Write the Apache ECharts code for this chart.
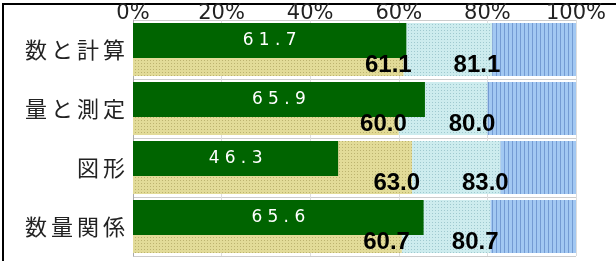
<!DOCTYPE html>
<html>
<head>
<meta charset="utf-8">
<script src="https://cdn.jsdelivr.net/npm/echarts@6/dist/echarts.min.js"></script>
<style>
  html, body { margin: 0; padding: 0; background: #fff; }
  #chart { width: 616px; height: 261px; }
</style>
</head>
<body>
<div id="chart"></div>
<script>
const categories = ['数と計算', '量と測定', '図形', '数量関係']
const greenValues = [61.7, 65.9, 46.3, 65.6]
const lowerValues = [61.1, 60.0, 63.0, 60.7]
const upperValues = [81.1, 80.0, 83.0, 80.7]
const xTicks = [0, 20, 40, 60, 80, 100]

// spread characters out a bit, the original font is very wide
const spread = (text, key) =>
  String(text).split('').map(c => '{' + (c === '.' ? key + 'p' : key) + '|' + c + '}').join('')

const chart = echarts.init(document.getElementById('chart'))

const blackLabel = (values) => ({
  show: true,
  position: ['100%', '80%'],
  offset: [8, 0],
  align: 'right',
  verticalAlign: 'middle',
  fontFamily: 'Liberation Sans',
  fontWeight: 'bold',
  fontSize: 24,
  color: '#000',
  formatter: p => values[p.dataIndex].toFixed(1)
})

chart.setOption({
  animation: false,
  grid: { left: 133, right: 40, top: 20, bottom: 5, containLabel: false, outerBoundsMode: 'none' },
  graphic: [{
    type: 'rect',
    shape: { x: 3, y: 4, width: 700, height: 400 },
    style: { fill: 'none', stroke: '#000', lineWidth: 2 },
    silent: true
  }],
  xAxis: {
    type: 'value',
    position: 'top',
    min: xTicks[0],
    max: xTicks[xTicks.length - 1],
    interval: 20,
    axisLine: { show: false },
    axisTick: { show: false },
    splitLine: { show: true, lineStyle: { color: '#ddd' } },
    axisLabel: {
      margin: 0,
      lineHeight: 12,
      fontFamily: 'DejaVu Sans',
      fontSize: 21,
      color: '#222',
      formatter: '{value}%'
    }
  },
  yAxis: [{
    type: 'category',
    inverse: true,
    data: categories,
    axisLine: { show: true, lineStyle: { color: '#aaa' } },
    axisTick: { show: false },
    splitLine: { show: true, lineStyle: { color: '#ccc' } },
    axisLabel: {
      margin: 6,
      fontFamily: 'Noto Sans CJK JP',
      fontSize: 22,
      color: '#222',
      formatter: v => spread(v, 'c'),
      rich: {
        c: { fontFamily: 'Noto Sans CJK JP', fontSize: 22, color: '#222', width: 26, align: 'center' },
        cp: { fontFamily: 'Noto Sans CJK JP', fontSize: 22, color: '#222', width: 26, align: 'center' }
      }
    }
  }, {
    type: 'category',
    inverse: true,
    data: categories,
    show: false
  }],
  series: [{
    name: 'lower',
    type: 'bar',
    stack: 'all',
    yAxisIndex: 0,
    barWidth: 53,
    data: lowerValues,
    itemStyle: {
      color: '#e2db98',
      decal: { symbol: 'rect', symbolSize: 1, dashArrayX: [1, 2], dashArrayY: [1, 2], color: 'rgba(150,140,70,0.5)' }
    },
    label: blackLabel(lowerValues)
  }, {
    name: 'middle',
    type: 'bar',
    stack: 'all',
    yAxisIndex: 0,
    barWidth: 53,
    data: upperValues.map((v, i) => +(v - lowerValues[i]).toFixed(1)),
    itemStyle: {
      color: '#cdecee',
      decal: { symbol: 'rect', symbolSize: 1, dashArrayX: [1, 2], dashArrayY: [1, 2], color: 'rgba(90,150,160,0.4)' }
    },
    label: blackLabel(upperValues)
  }, {
    name: 'upper',
    type: 'bar',
    stack: 'all',
    yAxisIndex: 0,
    barWidth: 53,
    data: upperValues.map(v => +(100 - v).toFixed(1)),
    itemStyle: {
      color: '#a2c8f2',
      decal: { symbol: 'rect', symbolSize: 1, dashArrayX: [1, 3], dashArrayY: [10, 0], color: 'rgba(70,110,180,0.5)' }
    }
  }, {
    name: 'score',
    type: 'bar',
    yAxisIndex: 1,
    barWidth: 35,
    barGap: 0,
    data: greenValues,
    itemStyle: { color: '#006400' },
    label: {
      show: true,
      position: 'inside',
      fontFamily: 'DejaVu Sans',
      fontSize: 17,
      color: '#fff',
      formatter: p => spread(p.value.toFixed(1), 'g'),
      rich: {
        g: { fontFamily: 'DejaVu Sans', fontSize: 17, color: '#fff', width: 16, align: 'center' },
        gp: { fontFamily: 'DejaVu Sans', fontSize: 17, color: '#fff', width: 11, align: 'center' }
      }
    }
  }, {
    name: 'spacer',
    type: 'bar',
    yAxisIndex: 1,
    barWidth: 18,
    barGap: 0,
    data: greenValues.map(() => 0),
    itemStyle: { color: 'transparent' },
    silent: true
  }]
})
</script>
</body>
</html>
